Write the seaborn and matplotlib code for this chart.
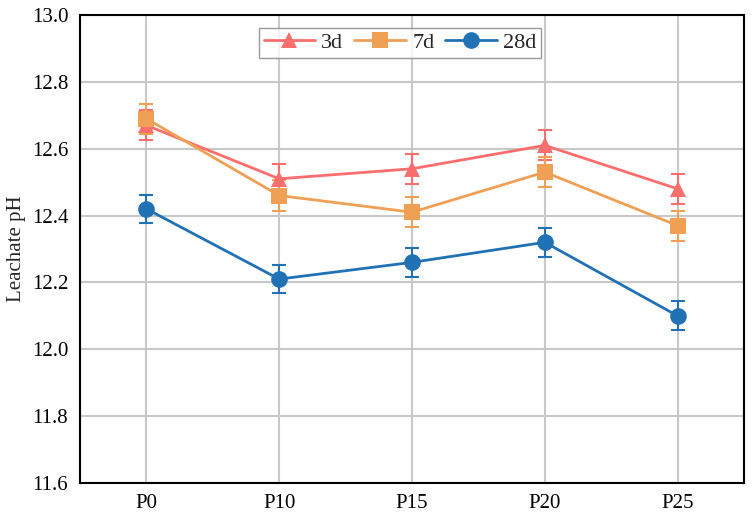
import matplotlib
matplotlib.use("Agg")
import matplotlib.pyplot as plt
import seaborn as sns
import pandas as pd
import numpy as np

categories = ["P0", "P10", "P15", "P20", "P25"]
series_names = ["3d", "7d", "28d"]
ph_3d = [12.67, 12.51, 12.54, 12.61, 12.48]
ph_7d = [12.69, 12.46, 12.41, 12.53, 12.37]
ph_28d = [12.42, 12.21, 12.26, 12.32, 12.10]
err_3d = [0.045, 0.045, 0.045, 0.045, 0.045]
err_7d = [0.045, 0.045, 0.045, 0.045, 0.045]
err_28d = [0.043, 0.043, 0.043, 0.043, 0.043]
y_ticks = [11.6, 11.8, 12.0, 12.2, 12.4, 12.6, 12.8, 13.0]

colors = {"3d": "#FA6E6E", "7d": "#EFA055", "28d": "#2171B5"}
markers = {"3d": "^", "7d": "s", "28d": "o"}

values = {"3d": ph_3d, "7d": ph_7d, "28d": ph_28d}
errors = {"3d": err_3d, "7d": err_7d, "28d": err_28d}

rows = []
for s in series_names:
    for i, c in enumerate(categories):
        rows.append({"pos": i, "cat": c, "series": s, "ph": values[s][i], "err": errors[s][i]})
df = pd.DataFrame(rows)

sns.set_theme(style="white")
plt.rcParams["font.family"] = ["Liberation Serif", "DejaVu Serif"]

fig = plt.figure(figsize=(7.52, 5.19), dpi=100)
ax = fig.add_axes([80 / 752, 1 - 483 / 519, (744 - 80) / 752, (483 - 15) / 519])

ax.grid(True, color="#C8C8C8", linewidth=1.5, zorder=0)
ax.set_axisbelow(True)

for s in series_names:
    sub = df[df["series"] == s]
    ax.errorbar(sub["pos"], sub["ph"], yerr=sub["err"], fmt="none",
                ecolor=colors[s], elinewidth=1.5, capsize=5, capthick=1.5, zorder=3)

sns.lineplot(data=df, x="pos", y="ph", hue="series", style="series",
             hue_order=series_names, style_order=series_names,
             palette=colors, markers=markers, dashes=False,
             markersize=12, markeredgewidth=0, linewidth=2, ax=ax, zorder=4)

ax.set_xlim(-0.5, 4.5)
ax.set_ylim(11.6, 13.0)
ax.set_xticks(range(len(categories)))
ax.set_xticklabels(categories)
ax.set_yticks(y_ticks)
ax.set_yticklabels([f"{t:.1f}" for t in y_ticks])
ax.set_xlabel("")
ax.set_ylabel("Leachate pH", fontsize=15)

for sp in ax.spines.values():
    sp.set_visible(True)
    sp.set_color("black")
    sp.set_linewidth(1.5)

ax.tick_params(axis="x", direction="in", length=5, width=1.5, labelsize=15, pad=8, color="black")
ax.tick_params(axis="y", direction="out", length=5, width=1.5, labelsize=15, color="black")
ax.tick_params(axis="both", colors="black", labelcolor="black")

leg = ax.legend(loc="upper center", bbox_to_anchor=(0.482, 0.972), ncol=3, frameon=True,
                fontsize=16, fancybox=False, edgecolor="#808080", handlelength=2.3,
                columnspacing=0.5, handletextpad=0.3, borderpad=0.2, borderaxespad=0)
leg.get_frame().set_linewidth(1.0)

fig.savefig("out.png", dpi=100)
